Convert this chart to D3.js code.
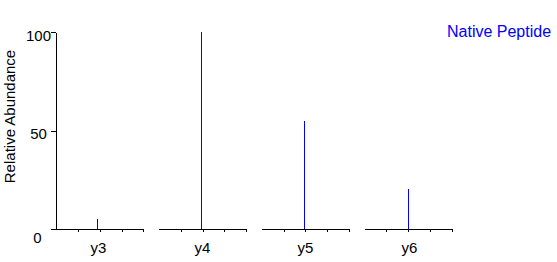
<!DOCTYPE html>
<meta charset="utf-8">
<style>
body { margin: 0; background: #fff; }
svg { font-family: "Liberation Sans", Arial, sans-serif; }
.axis path,
.axis line {
    fill: none;
    stroke: #000;
    shape-rendering: crispEdges;
}
.peak {
    fill: #0000ff;
    shape-rendering: crispEdges;
}
</style>
<svg width="557" height="262"></svg>
<script src="https://d3js.org/d3.v7.min.js"></script>
<script>

// fragment ions, peak position inside each window, relative abundance
let ions = ["y3", "y4", "y5", "y6"];
let peakPos = [1.88, 1.92, 1.94, 1.99];
let abundance = [5, 100, 55, 20.5];
let yTicks = [0, 50, 100];
let windowTicks = [1, 2, 3, 4];

let svg = d3.select("svg");

let panel = d3.scaleBand()
    .domain(ions)
    .range([56, 452])
    .paddingInner(0.15)
    .paddingOuter(0);

let y = d3.scaleLinear().domain([0, 100]).range([229, 32]);

// y axis
let yAxis = svg.append("g")
    .attr("class", "axis axis--y")
    .attr("transform", "translate(56,0)")
    .call(d3.axisLeft(y).tickValues(yTicks).tickSize(5).tickSizeOuter(0));

yAxis.selectAll("text")
    .attr("x", -17.5)
    .attr("dy", null)
    .attr("y", d => d === 0 ? 13 : 8)
    .attr("text-anchor", "middle")
    .attr("transform", d => d === 0 ? "translate(-1,0)" : null)
    .style("font-size", "15px")
    .style("font-family", "inherit");

svg.append("text")
    .attr("transform", "translate(15,116.5) rotate(-90)")
    .attr("text-anchor", "middle")
    .style("font-size", "15px")
    .text("Relative Abundance");

let xScales = ions.map(function(ion) {
    let x0 = panel(ion);
    return d3.scaleLinear().domain([0, 4]).range([x0, x0 + panel.bandwidth()]);
});

// one small window per ion
ions.forEach(function(ion, i) {
    let x = xScales[i];

    svg.append("g")
        .attr("class", "axis axis--x")
        .attr("transform", "translate(0," + y(0) + ")")
        .call(d3.axisBottom(x).tickValues(windowTicks).tickSize(3).tickSizeOuter(0).tickFormat(""));

    svg.append("text")
        .attr("x", Math.round(x(peakPos[i])) + 1.5)
        .attr("y", 253)
        .attr("text-anchor", "middle")
        .style("font-size", "15px")
        .text(ion);
});

// peaks drawn on top of the axes
svg.append("g")
    .selectAll("rect")
    .data(ions)
    .join("rect")
    .attr("class", "peak")
    .attr("x", (d, i) => Math.round(xScales[i](peakPos[i])))
    .attr("width", 1)
    .attr("y", (d, i) => Math.round(y(abundance[i])))
    .attr("height", (d, i) => Math.round(y(0)) - Math.round(y(abundance[i])));

svg.append("text")
    .attr("x", 447)
    .attr("y", 36.5)
    .attr("fill", "#0000ff")
    .style("font-size", "16px")
    .text("Native Peptide");

</script>
